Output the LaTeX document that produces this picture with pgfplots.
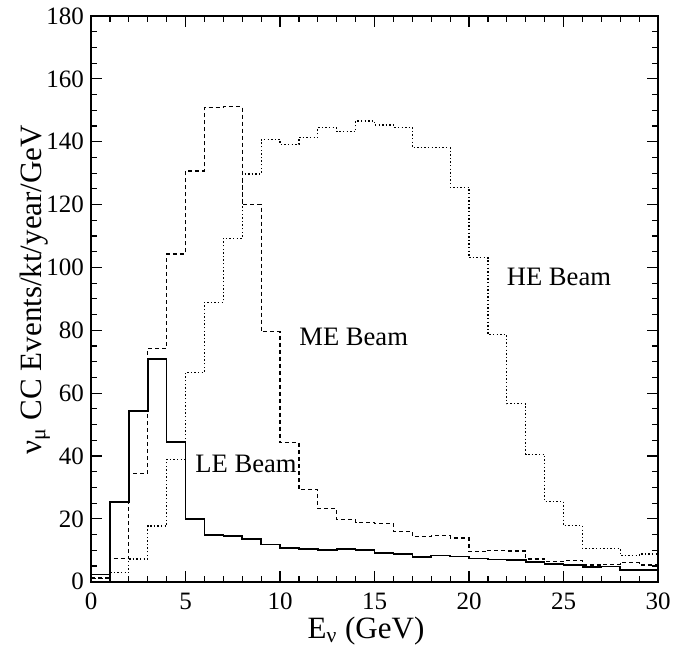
\documentclass[border=0pt]{standalone}
\usepackage{fontspec}
\setmainfont{Liberation Serif}
\usepackage{pgfplots}
\usepackage{pgfplotstable}
\pgfplotsset{compat=1.18}

% nu_mu CC rates per 1 GeV bin, left bin edge; last row closes the histogram
\pgfplotstableread{
E   LE    ME     HE
0   2.3   1.2    1.0
1   25.3  7.4    2.9
2   54.3  34.5   7.2
3   70.8  74.3   17.7
4   44.5  104.3  38.9
5   19.9  130.7  66.6
6   14.9  150.9  88.9
7   14.5  151.1  109.3
8   13.6  120.1  129.7
9   11.8  79.5   140.7
10  10.7  44.2   139.2
11  10.5  29.3   141.4
12  10.1  23.3   144.5
13  10.4  19.8   143.2
14  10.0  18.9   146.6
15  9.2   18.5   145.3
16  8.9   15.9   144.6
17  7.8   14.3   138.1
18  8.4   14.6   138.1
19  8.0   13.9   125.5
20  7.4   9.5    103.1
21  7.1   10.0   78.6
22  6.9   9.8    56.6
23  6.3   7.2    40.6
24  5.6   6.4    25.5
25  5.3   6.7    17.8
26  4.6   5.3    10.6
27  4.8   5.5    10.6
28  3.7   6.1    8.3
29  3.8   5.3    8.8
30  3.8   5.3    8.8
}\rates

\begin{document}
\begin{tikzpicture}
\begin{axis}[
  scale only axis,
  width=283.5pt, height=282.85pt,
  xmin=0, xmax=30, ymin=0, ymax=180,
  xtick={0,5,...,30}, ytick={0,20,...,180},
  minor x tick num=4, minor y tick num=3,
  tick align=inside,
  major tick length=5.5pt, minor tick length=3pt,
  axis line style={line width=0.8pt},
  every tick/.style={black, line width=0.6pt},
  /pgf/number format/assume math mode=true,
  ticklabel style={font=\fontsize{12.5}{14}\selectfont},
  xticklabel style={yshift=-2pt},
  xlabel={E\textsubscript{ν} (GeV)},
  ylabel={ν\textsubscript{μ} CC Events/kt/year/GeV},
  label style={font=\fontsize{15.5}{18}\selectfont},
  xlabel style={at={(axis description cs:0.485,-0.087)}, anchor=center},
  ylabel style={at={(axis description cs:-0.099,0.516)}, anchor=center},
]
\addplot[const plot, line width=0.8pt] table[x=E, y=LE] {\rates};
\addplot[const plot, line width=0.6pt, dash pattern=on 2pt off 1.5pt] table[x=E, y=ME] {\rates};
\addplot[const plot, line width=0.6pt, dash pattern=on 0.7pt off 1.1pt] table[x=E, y=HE] {\rates};

\node[font=\fontsize{13.3}{16}\selectfont] at (axis cs:24.76,96.9) {HE Beam};
\node[font=\fontsize{13.3}{16}\selectfont] at (axis cs:13.9,77.9) {ME Beam};
\node[font=\fontsize{13.3}{16}\selectfont] at (axis cs:8.2,37.4) {LE Beam};

\coordinate (sw) at (rel axis cs:0,0);
\coordinate (ne) at (rel axis cs:1,1);
\end{axis}
\pgfresetboundingbox
\path ([xshift=-45.5pt,yshift=-32.65pt]sw) rectangle ([xshift=12pt,yshift=8pt]ne);
\end{tikzpicture}
\end{document}
